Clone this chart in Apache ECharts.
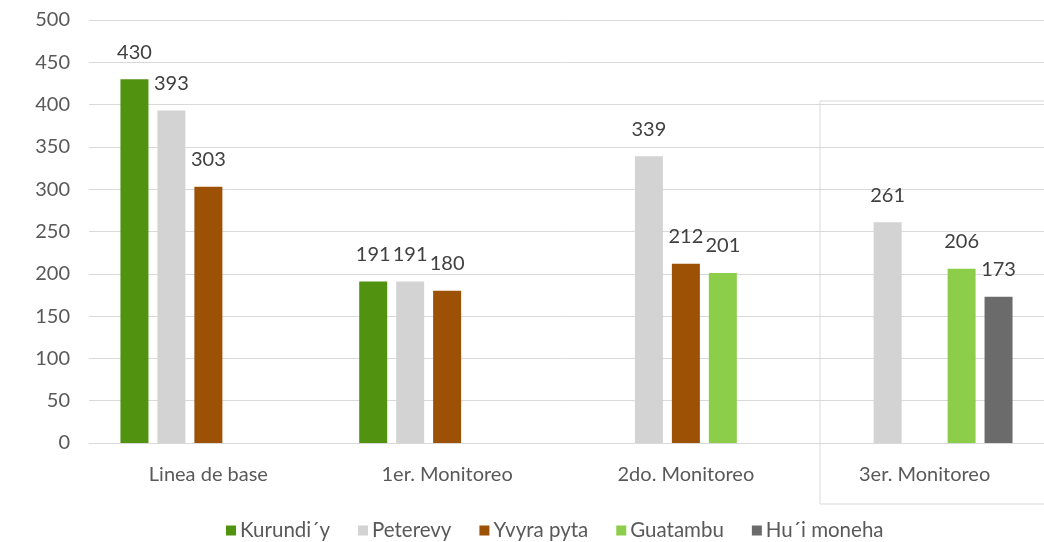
<!DOCTYPE html>
<html>
<head>
<meta charset="utf-8">
<script src="https://cdn.jsdelivr.net/npm/echarts@6/dist/echarts.min.js"></script>
<style>
  html, body { margin: 0; padding: 0; background: #fff; }
  #chart { width: 1044px; height: 542px; }
</style>
</head>
<body>
<div id="chart"></div>
<script>
// categorias y valores por especie
const categories = ['Linea de base', '1er. Monitoreo', '2do. Monitoreo', '3er. Monitoreo']
const kurundiy = [430, 191, null, null]
const peterevy = [393, 191, 339, 261]
const yvyraPyta = [303, 180, 212, null]
const guatambu = [null, null, 201, 206]
const huiMoneha = [null, null, null, 173]
const seriesNames = ['Kurundi´y', 'Peterevy', 'Yvyra pyta', 'Guatambu', 'Hu´i moneha']
const seriesData = [kurundiy, peterevy, yvyraPyta, guatambu, huiMoneha]
const colors = ['#519210', '#d3d3d3', '#9c5105', '#8ccd4a', '#6b6b6b']

const font = 'Lato, "Open Sans", sans-serif'
const chart = echarts.init(document.getElementById('chart'))

const option = {
  animation: false,
  color: colors,
  textStyle: { fontFamily: font },
  grid: {
    left: 89,
    right: 0,
    top: 20,
    bottom: 99
  },
  legend: {
    data: seriesNames,
    left: 221,
    top: 515,
    itemWidth: 10,
    itemHeight: 10,
    itemGap: 28,
    icon: 'rect',
    textStyle: { fontSize: 20.5, color: '#595959', fontFamily: font, padding: [0, 0, 0, -1] }
  },
  xAxis: {
    type: 'category',
    data: categories,
    axisLine: { lineStyle: { color: '#d9d9d9' } },
    axisTick: { show: false },
    axisLabel: { fontSize: 20, color: '#595959', margin: 22, fontFamily: font }
  },
  yAxis: {
    type: 'value',
    min: 0,
    max: 500,
    interval: 50,
    axisLine: { show: false },
    axisTick: { show: false },
    axisLabel: { fontSize: 20, color: '#595959', margin: 19, fontFamily: font },
    splitLine: { lineStyle: { color: '#d9d9d9' } }
  },
  series: seriesNames.map((name, i) => ({
    name,
    type: 'bar',
    data: seriesData[i],
    barWidth: 28,
    barGap: '32%',
    label: {
      show: true,
      position: 'top',
      distance: 17,
      fontSize: 20,
      color: '#404040',
      fontFamily: font
    }
  })),
  // recuadro alrededor del 3er. Monitoreo
  graphic: [{
    type: 'rect',
    shape: { x: 820, y: 101, width: 240, height: 403 },
    style: { fill: 'none', stroke: '#d9d9d9', lineWidth: 1 },
    silent: true
  }]
}

chart.setOption(option)
</script>
</body>
</html>
